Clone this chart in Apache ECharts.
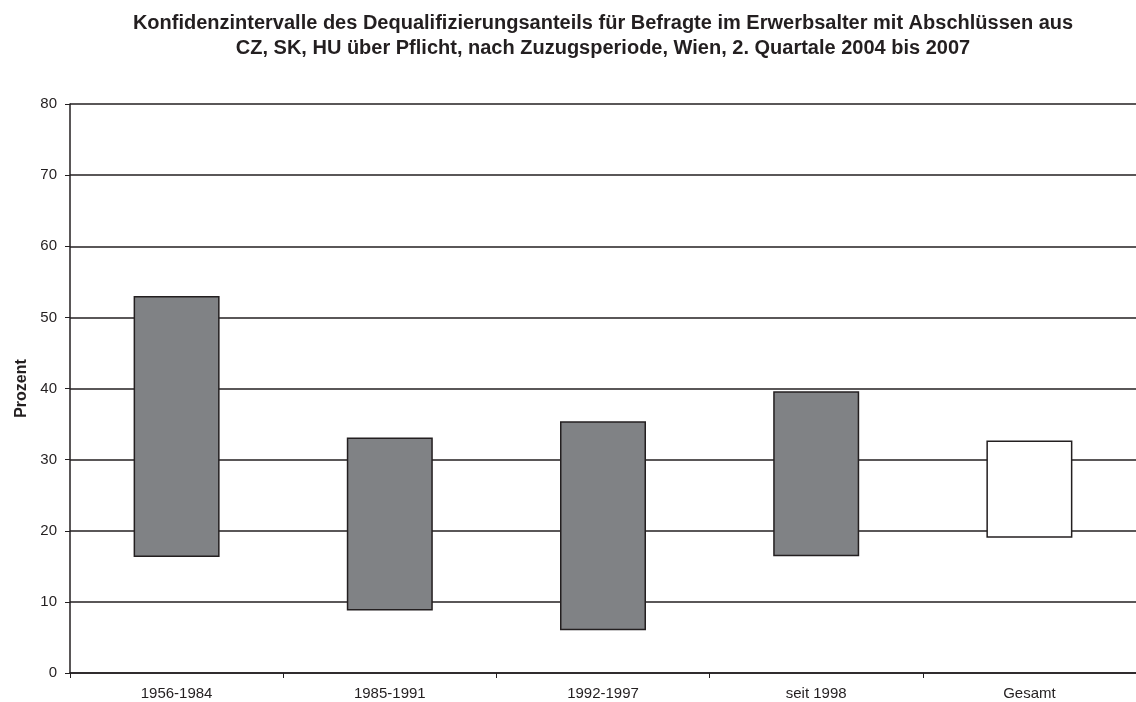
<!DOCTYPE html>
<html>
<head>
<meta charset="utf-8">
<script src="https://cdn.jsdelivr.net/npm/echarts@6/dist/echarts.min.js"></script>
<style>
  html, body { margin: 0; padding: 0; background: #fff; }
  #chart { width: 1136px; height: 702px; }
</style>
</head>
<body>
<div id="chart"></div>
<script>
// Zuzugsperioden
var categories = ['1956-1984', '1985-1991', '1992-1997', 'seit 1998', 'Gesamt']
// untere / obere Grenze des Konfidenzintervalls (Prozent)
var lowerBound = [16.3, 8.8, 6.0, 16.4, 19.0]
var upperBound = [53.0, 33.1, 35.4, 39.6, 32.7]
var yTicks = [0, 10, 20, 30, 40, 50, 60, 70, 80]

var chart = echarts.init(document.getElementById('chart'))

// Höhe des sichtbaren Balkens = obere - untere Grenze
var spanData = upperBound.map(function(v, i) {
  return +(v - lowerBound[i]).toFixed(2)
})

chart.setOption({
  animation: false,
  textStyle: { fontFamily: 'Arial, "Liberation Sans", sans-serif' },
  title: {
    text: 'Konfidenzintervalle des Dequalifizierungsanteils für Befragte im Erwerbsalter mit Abschlüssen aus\nCZ, SK, HU über Pflicht, nach Zuzugsperiode, Wien, 2. Quartale 2004 bis 2007',
    left: 598,
    textAlign: 'center',
    top: 6,
    textStyle: {
      fontSize: 20,
      fontWeight: 'bold',
      color: '#231f20',
      lineHeight: 25
    }
  },
  grid: {
    left: 70,
    right: 0,
    top: 104,
    bottom: 29
  },
  xAxis: {
    type: 'category',
    data: categories,
    axisLine: { lineStyle: { color: '#231f20', width: 1.5 } },
    axisTick: { show: true, length: 5, lineStyle: { color: '#231f20' } },
    axisLabel: { fontSize: 15, color: '#231f20', margin: 13 },
    splitLine: { show: false }
  },
  yAxis: {
    type: 'value',
    min: yTicks[0],
    max: yTicks[yTicks.length - 1],
    interval: 10,
    name: 'Prozent',
    nameLocation: 'middle',
    nameRotate: 90,
    nameGap: 38,
    nameTextStyle: { fontSize: 16, fontWeight: 'bold', color: '#231f20' },
    axisLine: { show: true, lineStyle: { color: '#231f20', width: 1.5 } },
    axisTick: { show: true, length: 5, lineStyle: { color: '#231f20' } },
    axisLabel: { fontSize: 15, color: '#231f20', margin: 13 },
    splitLine: { show: true, lineStyle: { color: '#231f20', width: 1.5 } }
  },
  series: [
    {
      name: 'Basis',
      type: 'bar',
      stack: 'ki',
      data: lowerBound,
      barWidth: 86,
      silent: true,
      itemStyle: { color: 'rgba(0,0,0,0)' }
    },
    {
      name: 'Konfidenzintervall',
      type: 'bar',
      stack: 'ki',
      data: spanData,
      barWidth: 86,
      itemStyle: {
        color: function(p) {
          return p.name === 'Gesamt' ? '#ffffff' : '#808285'
        },
        borderColor: '#231f20',
        borderWidth: 1.5
      }
    }
  ]
})
</script>
</body>
</html>
